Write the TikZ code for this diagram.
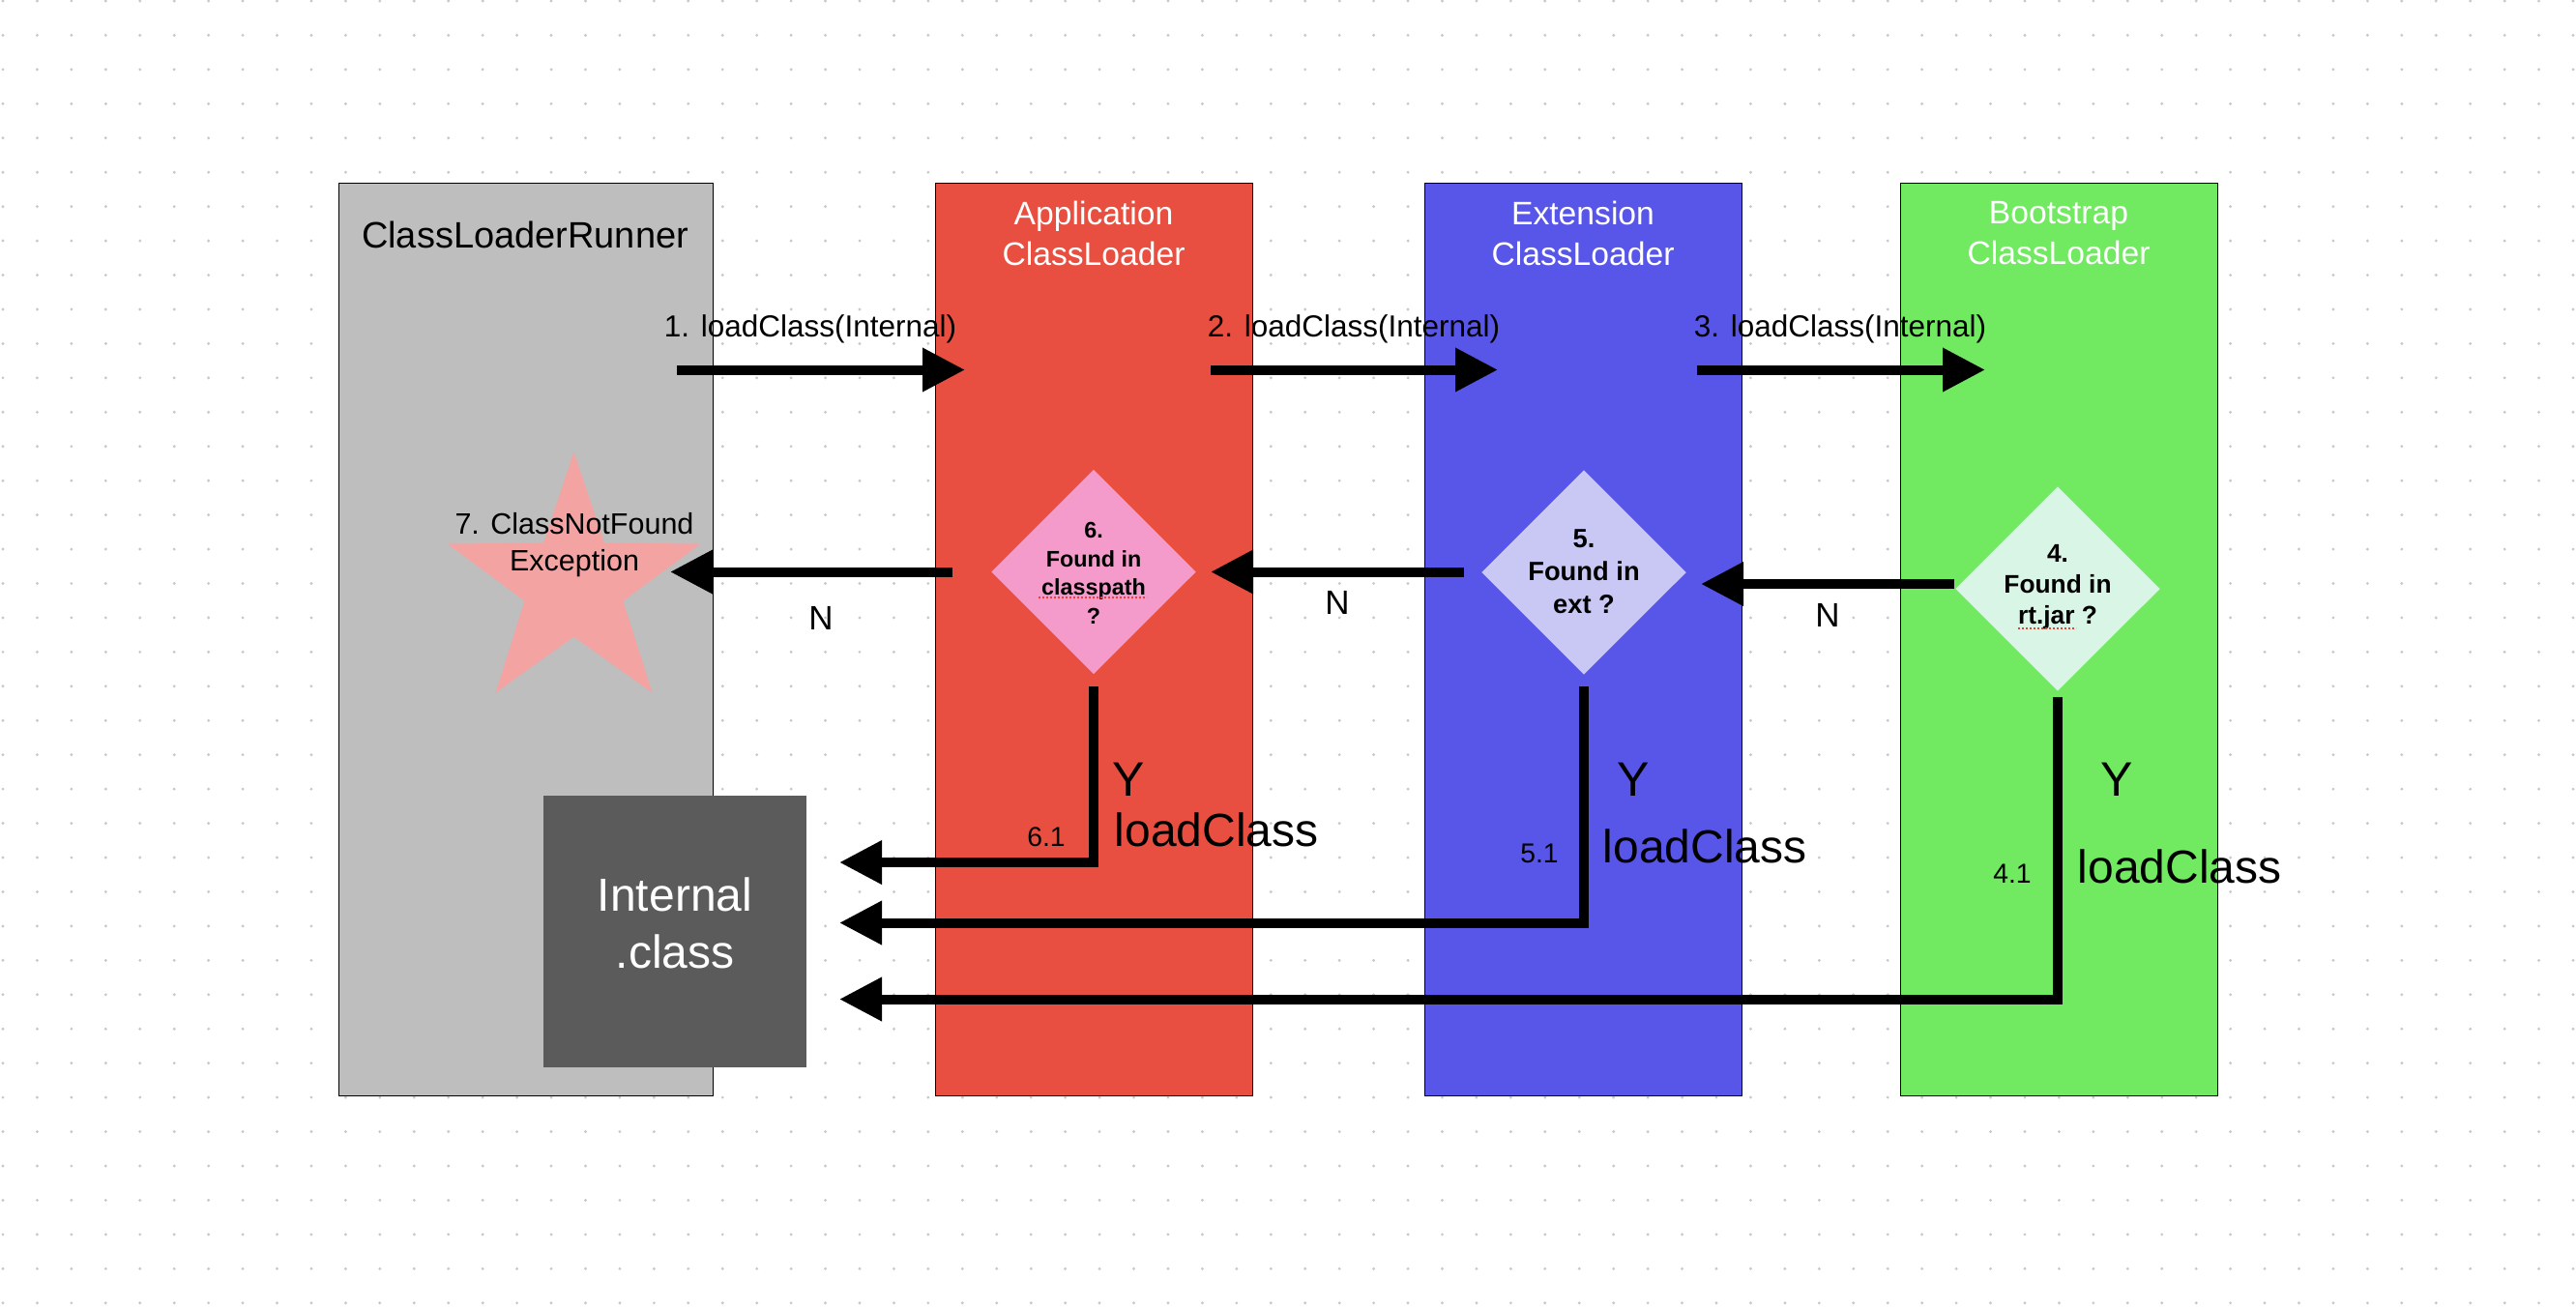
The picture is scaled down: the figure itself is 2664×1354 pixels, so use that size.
\documentclass[tikz,border=0pt]{standalone}
\usepackage{fontspec}
\setmainfont{Liberation Sans}
\usetikzlibrary{arrows.meta,shapes.geometric}
\definecolor{laneGray}{HTML}{BEBEBE}
\definecolor{laneRed}{HTML}{E94F40}
\definecolor{laneBlue}{HTML}{5855E9}
\definecolor{laneGreen}{HTML}{71E961}
\definecolor{pinkD}{HTML}{F49BCB}
\definecolor{lavD}{HTML}{C9C8F4}
\definecolor{mintD}{HTML}{D9F5E5}
\definecolor{starPink}{HTML}{F4A3A3}
\definecolor{boxGray}{HTML}{5B5B5B}
\definecolor{dotc}{HTML}{C8C8C8}
\definecolor{spell}{HTML}{E8413A}
\begin{document}
\begin{tikzpicture}[x=0.3pt,y=-0.3pt,
  lane/.style={draw=black, line width=0.3pt, inner sep=0, minimum height=283.2pt, minimum width=98.4pt},
  dia/.style={diamond, inner sep=0, minimum width=63.6pt, minimum height=63.5pt},
  bigarrow/.style={line width=3pt, -{Triangle[length=13.2pt,width=12.9pt]}},
  lbl/.style={font=\fontsize{9.45pt}{11pt}\selectfont, inner sep=0, anchor=base},
  title/.style={text=white, font=\fontsize{10.1pt}{12.6pt}\selectfont, align=center, inner sep=0},
  nlbl/.style={font=\fontsize{10.5pt}{12pt}\selectfont, inner sep=0, anchor=base},
  ylbl/.style={font=\fontsize{15pt}{18pt}\selectfont, inner sep=0, anchor=base},
  lclbl/.style={font=\fontsize{14.4pt}{17pt}\selectfont, inner sep=0, anchor=base west},
  numlbl/.style={font=\fontsize{8.5pt}{10pt}\selectfont, inner sep=0, anchor=base},
  spellline/.style={spell, line width=0.5pt, dash pattern=on 0.6pt off 0.6pt}
]
\useasboundingbox (0,0) rectangle (2664,1354);
\fill[white] (0,0) rectangle (2664,1354);
% dot grid
\foreach \i in {0,...,75}{\foreach \j in {0,...,38}{\fill[dotc] ({3+35.44*\i},{1+35.44*\j}) circle (0.48pt);}}

% lanes
\node[lane, fill=laneGray, minimum width=116.1pt] (runner) at (543.5,661) {};
\node[lane, fill=laneRed] (app) at (1131,661) {};
\node[lane, fill=laneBlue] (ext) at (1637,661) {};
\node[lane, fill=laneGreen] (boot) at (2129,661) {};

% lane titles
\node[font=\fontsize{11.4pt}{13pt}\selectfont, inner sep=0, anchor=base] (runnert) at (543,256) {ClassLoaderRunner};
\node[title] (appt) at (1131,241) {Application\\ClassLoader};
\node[title] (extt) at (1637,241) {Extension\\ClassLoader};
\node[title] (boott) at (2129,241) {Bootstrap\\ClassLoader};

% star
\node[star, star points=5, star point ratio=2.57, minimum size=82.6pt, inner sep=0, fill=starPink] (star) at (593.5,605) {};
\node[font=\fontsize{9.15pt}{11.4pt}\selectfont, align=center, inner sep=0] (start) at (594,564) {7. ClassNotFound\\Exception};

% Internal.class box
\node[fill=boxGray, minimum width=81.6pt, minimum height=84.3pt, inner sep=0] (ic) at (698,963.5) {};
\node[text=white, font=\fontsize{14.4pt}{17.7pt}\selectfont, align=center, inner sep=0] (ict) at (698,954.5) {Internal\\.class};

% diamonds
\node[dia, fill=pinkD] (d6) at (1131,591.5) {};
\node[dia, fill=lavD] (d5) at (1638,592) {};
\node[dia, fill=mintD] (d4) at (2128,609) {};
\node[font=\bfseries\fontsize{7pt}{8.85pt}\selectfont, align=center, inner sep=0] (d6t) at (1131,593) {6.\\Found in\\classpath\\?};
\node[font=\bfseries\fontsize{8.2pt}{10.2pt}\selectfont, align=center, inner sep=0] (d5t) at (1638,591.5) {5.\\Found in\\ext ?};
\node[font=\bfseries\fontsize{7.9pt}{9.6pt}\selectfont, align=center, inner sep=0] (d4t) at (2128,607.5) {4.\\Found in\\rt.jar ?};
\draw[spellline] (1074,618) -- (1186,618);
\draw[spellline] (2087,650) -- (2147,650);

% top call arrows
\coordinate (a1s) at (700,382.5); \coordinate (a1e) at (998,382.5);
\coordinate (a2s) at (1252,382.5); \coordinate (a2e) at (1549,382.5);
\coordinate (a3s) at (1755,382.5); \coordinate (a3e) at (2053,382.5);
\draw[bigarrow] (a1s) -- (a1e);
\draw[bigarrow] (a2s) -- (a2e);
\draw[bigarrow] (a3s) -- (a3e);
\node[lbl] (l1) at (838,348) {1. loadClass(Internal)};
\node[lbl] (l2) at (1400,348) {2. loadClass(Internal)};
\node[lbl] (l3) at (1903,348) {3. loadClass(Internal)};

% N arrows
\coordinate (n1s) at (985,591.5); \coordinate (n1e) at (693,591.5);
\coordinate (n2s) at (1514,591.5); \coordinate (n2e) at (1252,591.5);
\coordinate (n3s) at (2021,604); \coordinate (n3e) at (1759,604);
\draw[bigarrow] (n1s) -- (n1e);
\draw[bigarrow] (n2s) -- (n2e);
\draw[bigarrow] (n3s) -- (n3e);
\node[nlbl] (nl1) at (849,651) {N};
\node[nlbl] (nl2) at (1383,635) {N};
\node[nlbl] (nl3) at (1890,648) {N};

% Y arrows
\coordinate (y6s) at (1131,710); \coordinate (y6e) at (868,892);
\coordinate (y5s) at (1638,710); \coordinate (y5e) at (868,954.5);
\coordinate (y4s) at (2128,721); \coordinate (y4e) at (868,1033.5);
\draw[bigarrow] (y6s) |- (y6e);
\draw[bigarrow] (y5s) |- (y5e);
\draw[bigarrow] (y4s) |- (y4e);
\node[ylbl] (yl6) at (1167,823) {Y};
\node[ylbl] (yl5) at (1689,823) {Y};
\node[ylbl] (yl4) at (2189,823) {Y};
\node[lclbl] (lc6) at (1152,875) {loadClass};
\node[lclbl] (lc5) at (1657,892) {loadClass};
\node[lclbl] (lc4) at (2148,913) {loadClass};
\node[numlbl] (s6) at (1082,875) {6.1};
\node[numlbl] (s5) at (1592,892) {5.1};
\node[numlbl] (s4) at (2081,913) {4.1};
\end{tikzpicture}
\end{document}
